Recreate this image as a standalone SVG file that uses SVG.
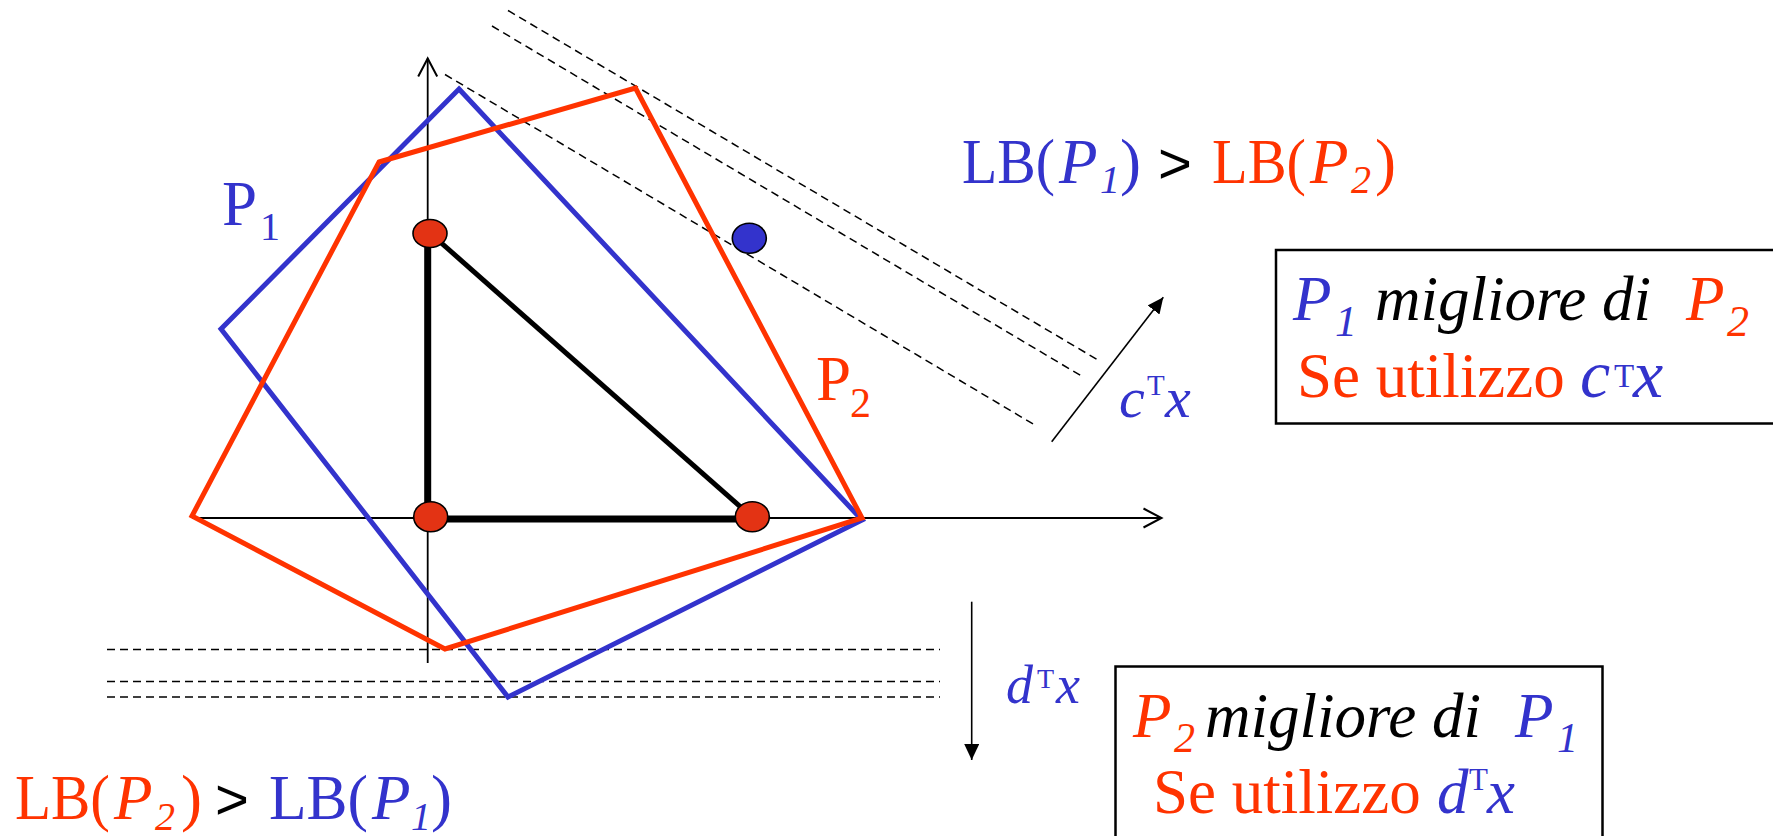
<svg xmlns="http://www.w3.org/2000/svg" width="1773" height="836" viewBox="0 0 1773 836">
<defs>
<style>
.serif{font-family:"Liberation Serif","Times New Roman",serif}
.sans{font-family:"Liberation Sans",Arial,sans-serif}
.it{font-style:italic}
.blue{fill:#3333CC}
.red{fill:#FF3300}
.blk{fill:#000}
.dash{stroke:#000;stroke-width:1.5;stroke-dasharray:8 5;fill:none}
.axis{stroke:#000;stroke-width:1.8;fill:none}
.poly{fill:none;stroke-width:5;stroke-linejoin:miter}
.dot{stroke:#000;stroke-width:1.6}
.box{fill:#fff;stroke:#000;stroke-width:2.5}
.thin{stroke:#000;stroke-width:1.6;fill:none}
</style>
<marker id="open" markerUnits="userSpaceOnUse" markerWidth="22" markerHeight="24" refX="19" refY="11" orient="auto" viewBox="0 0 22 24">
<path d="M1,1.5 L19,11 L1,20.5" fill="none" stroke="#000" stroke-width="2"/>
</marker>
<marker id="solid" markerUnits="userSpaceOnUse" markerWidth="17" markerHeight="15" refX="16" refY="7.5" orient="auto" viewBox="0 0 17 15">
<path d="M0,0 L16,7.5 L0,15 z" fill="#000"/>
</marker>
</defs>
<rect width="1773" height="836" fill="#fff"/>

<g id="levels">
<line class="dash" x1="508" y1="10.5" x2="1100.5" y2="361.5"/>
<line class="dash" x1="492" y1="26" x2="1084" y2="377.5"/>
<line class="dash" x1="445" y1="74.5" x2="1036.5" y2="426"/>
<line class="dash" x1="107" y1="649.5" x2="940" y2="649.5"/>
<line class="dash" x1="107" y1="681.5" x2="940" y2="681.5"/>
<line class="dash" x1="107" y1="697" x2="940" y2="697"/>
</g>

<g id="connectors">
<line class="axis" x1="427.7" y1="663" x2="427.7" y2="58.5" marker-end="url(#open)"/>
<line class="axis" x1="192" y1="518" x2="1161.5" y2="518" marker-end="url(#open)"/>
<line class="thin" x1="1051.7" y1="441.7" x2="1163.3" y2="297.3" marker-end="url(#solid)"/>
<line class="thin" x1="971.7" y1="601.7" x2="971.7" y2="760" marker-end="url(#solid)"/>
</g>

<g id="P1-poly">
<polygon class="poly" stroke="#3333CC" points="459,89 862,520 508,697 221,329"/>
</g>
<g id="P2-poly">
<polygon class="poly" stroke="#FF3300" points="379,162 635.5,88 862,518 445,649 192,516"/>
</g>

<g id="triangle">
<polyline points="427.7,233 427.7,519 752,519" fill="none" stroke="#000" stroke-width="7"/>
<line x1="430" y1="233" x2="752" y2="517" stroke="#000" stroke-width="5"/>
</g>

<g id="points">
<ellipse class="dot" cx="430" cy="233.5" rx="17" ry="14" fill="#E33314"/>
<ellipse class="dot" cx="430.7" cy="516.7" rx="17" ry="15" fill="#E33314"/>
<ellipse class="dot" cx="752.3" cy="516.7" rx="17" ry="15" fill="#E33314"/>
<ellipse class="dot" cx="749.3" cy="238.3" rx="17" ry="15" fill="#3333CC"/>
</g>

<g id="label-P1">
<text class="serif blue" x="222" y="225" font-size="63">P<tspan font-size="40" x="260" y="240">1</tspan></text>
</g>
<g id="label-P2">
<text class="serif red" x="816" y="400" font-size="63">P<tspan font-size="42" x="850" y="417">2</tspan></text>
</g>

<g id="label-cTx">
<text class="serif blue" y="416.7"><tspan class="it" x="1119" font-size="58">c</tspan><tspan x="1147" y="395" font-size="29">T</tspan><tspan class="it" x="1165" y="416.7" font-size="58">x</tspan></text>
</g>
<g id="label-dTx">
<text class="serif blue" y="703"><tspan class="it" x="1006" font-size="54">d</tspan><tspan x="1037" y="688" font-size="28">T</tspan><tspan class="it" x="1056" y="703" font-size="54">x</tspan></text>
</g>

<g id="lb-top">
<text class="serif" y="183" font-size="63"><tspan class="blue" x="962" textLength="93" lengthAdjust="spacingAndGlyphs">LB(</tspan><tspan class="blue it" x="1059">P</tspan><tspan class="blue it" x="1100" y="193" font-size="40">1</tspan><tspan class="blue" x="1120" y="183">)</tspan><tspan class="blk sans" x="1158" font-size="58">&gt;</tspan><tspan class="red" x="1212" textLength="94" lengthAdjust="spacingAndGlyphs">LB(</tspan><tspan class="red it" x="1310">P</tspan><tspan class="red it" x="1351" y="193" font-size="40">2</tspan><tspan class="red" x="1375" y="183">)</tspan></text>
</g>
<g id="lb-bottom">
<text class="serif" y="819" font-size="63"><tspan class="red" x="15" textLength="95" lengthAdjust="spacingAndGlyphs">LB(</tspan><tspan class="red it" x="114">P</tspan><tspan class="red it" x="155" y="830" font-size="40">2</tspan><tspan class="red" x="181" y="819">)</tspan><tspan class="blk sans" x="215" font-size="58">&gt;</tspan><tspan class="blue" x="269" textLength="99" lengthAdjust="spacingAndGlyphs">LB(</tspan><tspan class="blue it" x="372">P</tspan><tspan class="blue it" x="411" y="830" font-size="40">1</tspan><tspan class="blue" x="431" y="819">)</tspan></text>
</g>

<g id="box-c">
<rect class="box" x="1276" y="250" width="520" height="173.5"/>
<text class="serif" font-size="63" y="320"><tspan class="blue it" x="1293">P</tspan><tspan class="blue it" x="1335" y="336" font-size="44">1</tspan><tspan class="blk it" x="1375" y="320">migliore di</tspan><tspan class="red it" x="1686">P</tspan><tspan class="red it" x="1727" y="336" font-size="44">2</tspan></text>
<text class="serif" font-size="63" y="396.7"><tspan class="red" x="1297">Se utilizzo</tspan><tspan class="blue it" x="1580" font-size="68">c</tspan><tspan class="blue" x="1614" y="387" font-size="33">T</tspan><tspan class="blue it" x="1633" y="396.7" font-size="68">x</tspan></text>
</g>

<g id="box-d">
<rect class="box" x="1115.5" y="666.5" width="487" height="190"/>
<text class="serif" font-size="63" y="736.7"><tspan class="red it" x="1133">P</tspan><tspan class="red it" x="1174" y="752" font-size="42">2</tspan><tspan class="blk it" x="1205" y="736.7">migliore di</tspan><tspan class="blue it" x="1515">P</tspan><tspan class="blue it" x="1557" y="752" font-size="42">1</tspan></text>
<text class="serif" font-size="63" y="813"><tspan class="red" x="1153">Se utilizzo</tspan><tspan class="blue it" x="1437">d</tspan><tspan class="blue" x="1469" y="790" font-size="31">T</tspan><tspan class="blue it" x="1487" y="813">x</tspan></text>
</g>
</svg>
